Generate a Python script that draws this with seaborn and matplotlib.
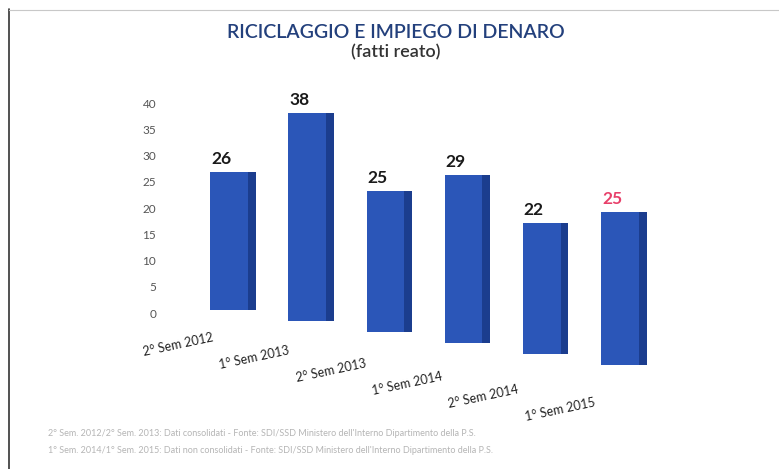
import matplotlib
matplotlib.use("Agg")
import matplotlib.pyplot as plt
import matplotlib.transforms as mtransforms
import seaborn as sns

# Data
categories = ["2° Sem 2012", "1° Sem 2013", "2° Sem 2013",
              "1° Sem 2014", "2° Sem 2014", "1° Sem 2015"]
values = [26, 38, 25, 29, 22, 25]
label_colors = ["#1a1a1a", "#1a1a1a", "#1a1a1a", "#1a1a1a", "#1a1a1a", "#e8406a"]
y_ticks = [0, 5, 10, 15, 20, 25, 30, 35, 40]

title = "RICICLAGGIO E IMPIEGO DI DENARO"
subtitle = "(fatti reato)"
notes = [
    "2° Sem. 2012/2° Sem. 2013: Dati consolidati - Fonte: SDI/SSD Ministero dell'Interno Dipartimento della P.S.",
    "1° Sem. 2014/1° Sem. 2015: Dati non consolidati - Fonte: SDI/SSD Ministero dell'Interno Dipartimento della P.S.",
]

sns.set_theme(style="white")
plt.rcParams["font.family"] = ["Lato", "DejaVu Sans"]

W, H, DPI = 779, 469, 100
fig = plt.figure(figsize=(W / DPI, H / DPI), dpi=DPI)
fig.patch.set_facecolor("white")

# axes: y=0 at 313 px, y=40 at 103 px; category 0 at 229 px, step 78.2 px
ax_left, ax_right = 170, 680
ax_top, ax_bottom = 103, 313
ax = fig.add_axes([ax_left / W, 1 - ax_bottom / H,
                   (ax_right - ax_left) / W, (ax_bottom - ax_top) / H])
ax.set_facecolor("none")

front_color = "#2b56b8"
side_color = "#1b3d8e"
n = len(values)
sns.barplot(x=categories, y=values, color=front_color, width=0.48,
            saturation=1, linewidth=0, ax=ax, zorder=3)
# darker right-hand side face of each column
ax.bar([i + 0.285 for i in range(n)], values, width=0.11,
       color=side_color, linewidth=0, zorder=2)

ax.set_xlim(-0.754, 5.767)
ax.set_ylim(0, 40)
ax.set_yticks(y_ticks)
ax.set_yticklabels([str(t) for t in y_ticks], color="#555555", fontsize=8.5)
ax.set_xticks([])
ax.set_xlabel("")
ax.set_ylabel("")
ax.tick_params(axis="y", length=0, pad=10)
for sp in ax.spines.values():
    sp.set_visible(False)

# perspective-like view: columns further right sit lower and grow slightly
x0, y0 = ax.transData.transform((0, 0))
drop, lift = 0.14, 3.0


def column_transform(i):
    xc = ax.transData.transform((i, 0))[0]
    scale = (5.3 + 0.00205 * (xc - x0)) / 5.25
    shift = lift - drop * (xc - x0)
    return ax.transData + (mtransforms.Affine2D()
                           .translate(0, -y0).scale(1, scale)
                           .translate(0, y0 + shift))


col_tr = [column_transform(i) for i in range(n)]
for j, p in enumerate(ax.patches):
    p.set_transform(col_tr[j % n])
    p.set_clip_on(False)

# value labels above the columns
for i, (v, c) in enumerate(zip(values, label_colors)):
    t = mtransforms.offset_copy(col_tr[i], fig=fig, x=-8, y=5, units="dots")
    ax.text(i, v, str(v), transform=t, ha="center", va="bottom",
            fontsize=12.5, fontweight="bold", color=c, zorder=5, clip_on=False)

# category labels, slanted along the baseline
for i, cat in enumerate(categories):
    t = mtransforms.offset_copy(col_tr[i], fig=fig, x=-51 - 1.8 * i,
                                y=-35 - 2 * i, units="dots")
    ax.text(i, 0, cat, transform=t, ha="center", va="center",
            rotation=12, rotation_mode="anchor", fontsize=9, color="#222222",
            clip_on=False)

# titles
fig.text(396 / W, 1 - 33 / H, title, ha="center", va="center",
         fontsize=14, fontweight="semibold", color="#23407c")
fig.text(396 / W, 1 - 52 / H, subtitle, ha="center", va="center",
         fontsize=13, fontweight="semibold", color="#333333")

# source notes
for j, line in enumerate(notes):
    fig.text(48 / W, 1 - (433 + 17 * j) / H, line, ha="left", va="center",
             fontsize=6.5, color="#b5b5b5")

# frame lines
fig.add_artist(plt.Line2D([9 / W, 9 / W], [1 - 9 / H, 0], color="#333333",
                          lw=1.2, transform=fig.transFigure))
fig.add_artist(plt.Line2D([9 / W, 1], [1 - 10 / H, 1 - 10 / H], color="#c8c8c8",
                          lw=0.8, transform=fig.transFigure))

fig.savefig("out.png", dpi=DPI, facecolor="white")
